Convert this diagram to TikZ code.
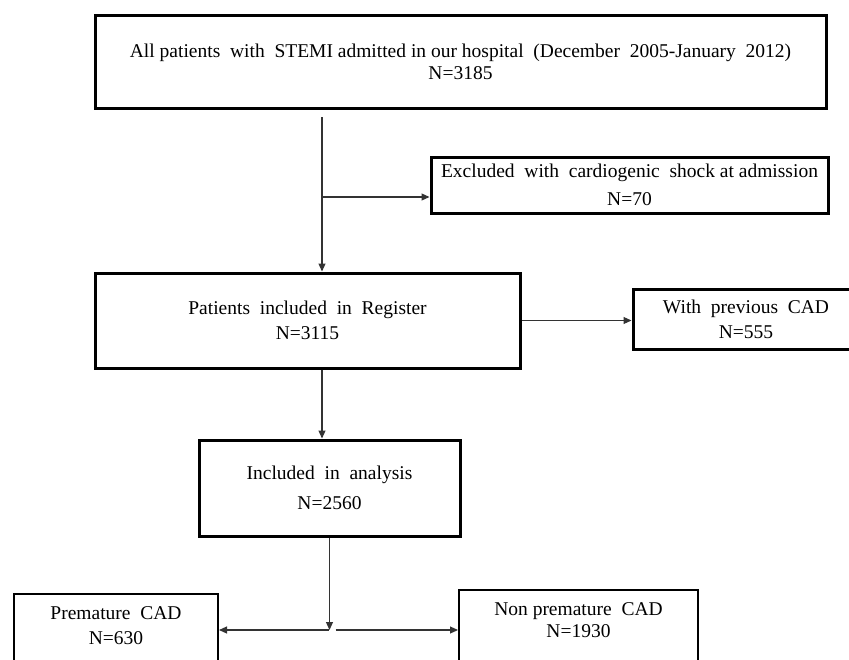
\documentclass[tikz,border=0pt]{standalone}
\usepackage{fontspec}
\setmainfont{Liberation Serif}
\usetikzlibrary{arrows.meta}
\begin{document}
\begin{tikzpicture}[x=1pt,y=-1pt,
  box/.style={draw=black, line width=3pt, inner sep=0pt, align=center},
  thinbox/.style={draw=black, line width=2pt, inner sep=0pt, anchor=north},
  conn/.style={draw=black!80, line width=1.1pt},
  arr/.style={conn, -{Triangle[length=8pt,width=7pt]}}
]
\useasboundingbox (0,0) rectangle (849,659);

\node[box, minimum width=731pt, minimum height=93pt, font=\fontsize{19.5}{22}\selectfont] (all) at (460.5,61.5)
  {All patients\ \ with\ \ STEMI admitted in our hospital\ \ (December\ \ 2005-January\ \ 2012)\\ N=3185};
\node[box, minimum width=397pt, minimum height=56pt, font=\fontsize{19.5}{28}\selectfont] (excl) at (629.5,185)
  {Excluded\ \ with\ \ cardiogenic\ \ shock at admission\\ N=70};
\node[box, minimum width=425pt, minimum height=95pt, font=\fontsize{19.5}{25}\selectfont] (reg) at (307.5,320.5)
  {Patients\ \ included\ \ in\ \ Register\\ N=3115};
\node[box, minimum width=226pt, minimum height=60pt, font=\fontsize{19.5}{25}\selectfont] (prev) at (746,319)
  {With\ \ previous\ \ CAD\\ N=555};
\node[box, minimum width=261pt, minimum height=96pt, font=\fontsize{19.5}{30}\selectfont] (ana) at (329.5,488)
  {Included\ \ in\ \ analysis\\ N=2560};
\node[thinbox, font=\fontsize{19.5}{25}\selectfont] (prem) at (116,593)
  {\parbox[c][100pt][t]{204pt}{\centering\vspace*{8pt}\strut Premature\ \ CAD\\ N=630}};
\node[thinbox, font=\fontsize{19.5}{22}\selectfont] (nonprem) at (578.5,589)
  {\parbox[c][100pt][t]{239pt}{\centering\vspace*{10pt}\strut Non premature\ \ CAD\\ N=1930}};

\coordinate (s1) at (322,117);
\coordinate (j1) at (322,197);
\coordinate (y630) at (0,630);
\coordinate (j2) at (ana.south |- y630);

\draw[arr] (s1) -- (s1 |- reg.north);
\draw[arr] (j1) -- (j1 -| excl.west);
\draw[arr] (reg.east) -- (reg.east -| prev.west);
\draw[arr] (reg.south -| s1) -- (s1 |- ana.north);
\draw[arr] (ana.south) -- (j2);
\draw[arr] ([xshift=-1pt]j2) -- (j2 -| prem.east);
\draw[arr] ([xshift=6pt]j2) -- (j2 -| nonprem.west);
\end{tikzpicture}
\end{document}
